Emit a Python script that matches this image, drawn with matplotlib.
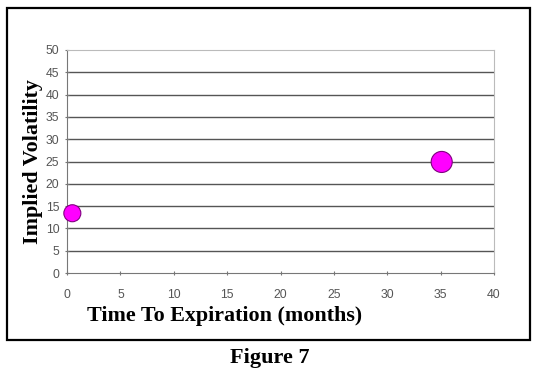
#!/usr/bin/env python3
"""Implied volatility vs time to expiration (Figure 7)."""
import matplotlib
matplotlib.use("Agg")
import matplotlib.pyplot as plt
from matplotlib.patches import Rectangle

# data
months = [0.5, 35.1]
implied_vol = [13.4, 24.9]
marker_size = [150, 230]

x_ticks = [0, 5, 10, 15, 20, 25, 30, 35, 40]
y_ticks = [0, 5, 10, 15, 20, 25, 30, 35, 40, 45, 50]

fig = plt.figure(figsize=(5.38, 3.77), dpi=100)
ax = fig.add_axes([67 / 538, 1 - 273 / 377, 427 / 538, 223 / 377])

# outer frame around the chart
fig.patches.append(Rectangle((7 / 538, 1 - 340 / 377), 523 / 538, 332 / 377,
                             transform=fig.transFigure, fill=False,
                             edgecolor="black", linewidth=1.6))

for y in y_ticks[1:-1]:
    ax.axhline(y, color="#555555", linewidth=1.0, zorder=1)

ax.scatter(months, implied_vol, s=marker_size, color="#ff00ff",
           edgecolors="#800080", linewidths=0.8, zorder=3, clip_on=False)

ax.set_xlim(0, 40)
ax.set_ylim(0, 50)
ax.set_xticks(x_ticks)
ax.set_yticks(y_ticks)
ax.tick_params(labelsize=8.8, labelcolor="#555555", color="#777777",
               length=3, direction="inout", pad=4,
               labelfontfamily="Liberation Sans")
ax.tick_params(axis="x", pad=10)

for side in ("left", "bottom"):
    ax.spines[side].set_color("#777777")
for side in ("top", "right"):
    ax.spines[side].set_color("#bbbbbb")

ax.set_xlabel("Time To Expiration (months)", family="Liberation Serif",
              fontweight="bold", fontsize=15.8)
ax.xaxis.set_label_coords(0.37, -0.15)
ax.xaxis.label.set_va("top")
ax.set_ylabel("Implied Volatility", family="Liberation Serif",
              fontweight="bold", fontsize=15.8, labelpad=2)

fig.text(270 / 538, 1 - 358 / 377, "Figure 7", family="Liberation Serif",
         fontweight="bold", fontsize=16, ha="center", va="center")

fig.savefig("out.png", dpi=100)
